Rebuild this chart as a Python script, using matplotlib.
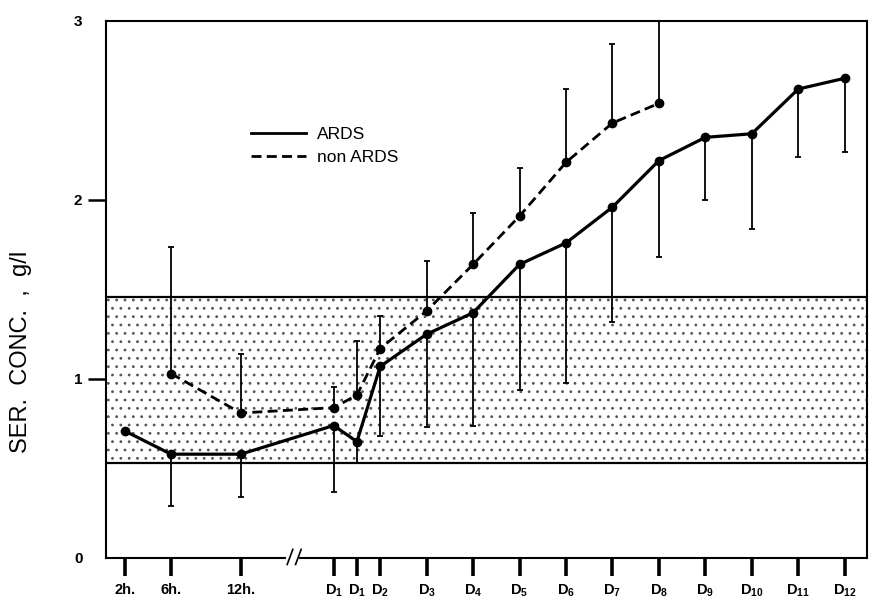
import matplotlib
matplotlib.use("Agg")
import matplotlib.pyplot as plt
from matplotlib.lines import Line2D
import numpy as np

plt.rcParams['font.family'] = ['Liberation Sans', 'DejaVu Sans']
plt.rcParams['mathtext.fontset'] = 'custom'
plt.rcParams['mathtext.rm'] = 'Liberation Sans:bold'
plt.rcParams['mathtext.bf'] = 'Liberation Sans:bold'
plt.rcParams['mathtext.default'] = 'rm'
plt.rcParams['hatch.linewidth'] = 0.8

# time axis: hours before the break, study days after it
tick_pos = [-3.5, -2.5, -1, 1, 1.5, 2, 3, 4, 5, 6, 7, 8, 9, 10, 11, 12]
tick_labels = ['2h.', '6h.', '12h.', r'D$_1$', r'D$_1$', r'D$_2$', r'D$_3$', r'D$_4$',
               r'D$_5$', r'D$_6$', r'D$_7$', r'D$_8$', r'D$_9$', r'D$_{10}$',
               r'D$_{11}$', r'D$_{12}$']

# ARDS patients: mean and lower end of the SD bar
ards_x = [-3.5, -2.5, -1, 1, 1.5, 2, 3, 4, 5, 6, 7, 8, 9, 10, 11, 12]
ards_mean = [0.71, 0.58, 0.58, 0.74, 0.65, 1.07, 1.25, 1.37, 1.64, 1.76, 1.96,
             2.22, 2.35, 2.37, 2.62, 2.68]
ards_low = [np.nan, 0.29, 0.34, 0.37, 0.53, 0.68, 0.73, 0.74, 0.94, 0.98, 1.32,
            1.68, 2.00, 1.84, 2.24, 2.27]

# non ARDS patients: mean and upper end of the SD bar
non_x = [-2.5, -1, 1, 1.5, 2, 3, 4, 5, 6, 7, 8]
non_mean = [1.03, 0.81, 0.84, 0.91, 1.17, 1.38, 1.64, 1.91, 2.21, 2.43, 2.54]
non_high = [1.74, 1.14, 0.955, 1.21, 1.35, 1.66, 1.93, 2.18, 2.62, 2.87, 3.05]

# normal range (shaded)
normal_low, normal_high = 0.53, 1.46

fig = plt.figure(figsize=(8.72, 6.05), dpi=100)
ax = fig.add_axes([0.1216, 0.0777, 0.8727, 0.8876])
ax.set_xlim(-3.9, 12.48)
ax.set_ylim(0, 3)

ax.axhspan(normal_low, normal_high, facecolor='white', edgecolor='#555555',
           hatch='..', linewidth=0, zorder=0)
ax.axhline(normal_low, color='black', lw=1.6, zorder=1)
ax.axhline(normal_high, color='black', lw=1.6, zorder=1)

ards_mean = np.array(ards_mean)
ards_err = np.nan_to_num(ards_mean - np.array(ards_low))
ax.errorbar(ards_x, ards_mean, yerr=[ards_err, np.zeros_like(ards_err)],
            fmt='none', ecolor='black', elinewidth=1.3, capsize=2, capthick=1.3,
            zorder=2)
ax.plot(ards_x, ards_mean, color='black', lw=2.3, marker='o', ms=6, zorder=3)

non_mean = np.array(non_mean)
non_err = np.array(non_high) - non_mean
ax.errorbar(non_x, non_mean, yerr=[np.zeros_like(non_err), non_err],
            fmt='none', ecolor='black', elinewidth=1.3, capsize=2, capthick=1.3,
            zorder=2)
ax.plot(non_x, non_mean, color='black', lw=2.0, ls=(0, (3.6, 1.9)),
        marker='o', ms=6, zorder=3)

for s in ax.spines.values():
    s.set_linewidth(1.5)

ax.set_xticks(tick_pos)
ax.set_xticklabels(tick_labels, fontsize=10.5, fontweight='bold')
ax.tick_params(axis='x', direction='out', length=13, width=2.6, pad=5)
ax.set_yticks([0, 1, 2, 3])
ax.set_yticklabels(['0', '1', '2', '3'], fontsize=11, fontweight='bold')
ax.tick_params(axis='y', direction='out', length=13, width=1.8, pad=4)
ax.yaxis.get_major_ticks()[0].tick1line.set_visible(False)
ax.yaxis.get_major_ticks()[3].tick1line.set_visible(False)

# break in the time axis
trans = ax.get_xaxis_transform()
ax.plot([0.02, 0.22], [0.0, 0.0], transform=trans, color='white', lw=3,
        clip_on=False, zorder=5)
for dx in (0.0, 0.18):
    ax.plot([0.0 + dx, 0.12 + dx], [-0.012, 0.016], transform=trans,
            color='black', lw=1.2, clip_on=False, zorder=6)

fig.text(0.024, 1 - 352 / 605, 'SER.  CONC.  ,  g/l', rotation=90,
         ha='center', va='center', fontsize=17)

handles = [Line2D([], [], color='black', lw=2.0),
           Line2D([], [], color='black', lw=2.0, ls=(0, (3.6, 1.9)))]
ax.legend(handles, ['ARDS', 'non ARDS'], loc='upper left',
          bbox_to_anchor=(0.19, 0.802), frameon=False, fontsize=12.5,
          handlelength=3.2, handletextpad=0.6, labelspacing=0.45,
          borderpad=0, borderaxespad=0)

fig.savefig('out.png', dpi=100)
